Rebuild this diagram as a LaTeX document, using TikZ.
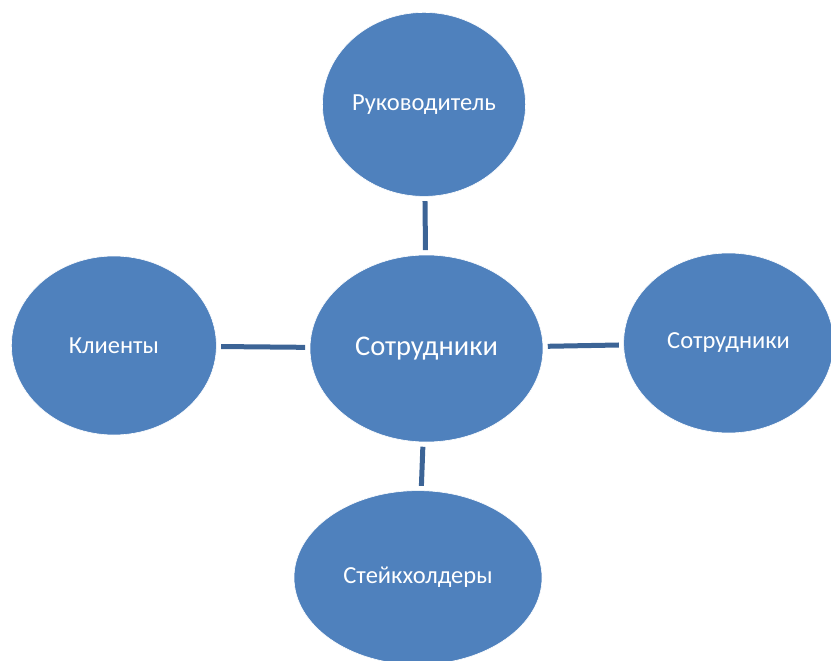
\documentclass[tikz,border=0pt]{standalone}
\usepackage{fontspec}
\setmainfont{Carlito}
\usetikzlibrary{shapes.geometric, positioning}
\definecolor{ovalblue}{HTML}{4F81BD}
\definecolor{linkblue}{HTML}{3C6496}
\tikzset{
  oval/.style={ellipse, fill=ovalblue, draw=white, line width=0.6pt,
               inner sep=0pt, text=white, font=\fontsize{24.5}{29}\selectfont},
  link/.style={draw=linkblue, line width=5pt, shorten <=4.5pt, shorten >=4.5pt},
}
\begin{document}
\begin{tikzpicture}[x=1pt, y=-1pt]
  \useasboundingbox (0,0) rectangle (831,661);
  \clip (0,0) rectangle (831,661);

  \node[oval, minimum width=233pt, minimum height=187pt,
        font=\fontsize{28.5}{34}\selectfont] (ctr) at (426.5,348.5) {Сотрудники};
  \node[oval, minimum width=202pt, minimum height=184pt,
        above=58pt of ctr, xshift=-2.5pt] (boss) {Руководитель};
  \node[oval, minimum width=205pt, minimum height=179pt,
        left=93pt of ctr, yshift=3pt] (clients) {Клиенты};
  \node[oval, minimum width=210pt, minimum height=180pt,
        right=80pt of ctr, yshift=5.5pt] (staff) {Сотрудники};
  \node[oval, minimum width=248pt, minimum height=174pt,
        below=48pt of ctr, xshift=-8.5pt] (stake) {Стейкхолдеры};

  \draw[link] (boss) -- (ctr);
  \draw[link] (clients) -- (ctr);
  \draw[link] (ctr) -- (staff);
  \draw[link] (ctr) -- (stake);

\end{tikzpicture}
\end{document}
